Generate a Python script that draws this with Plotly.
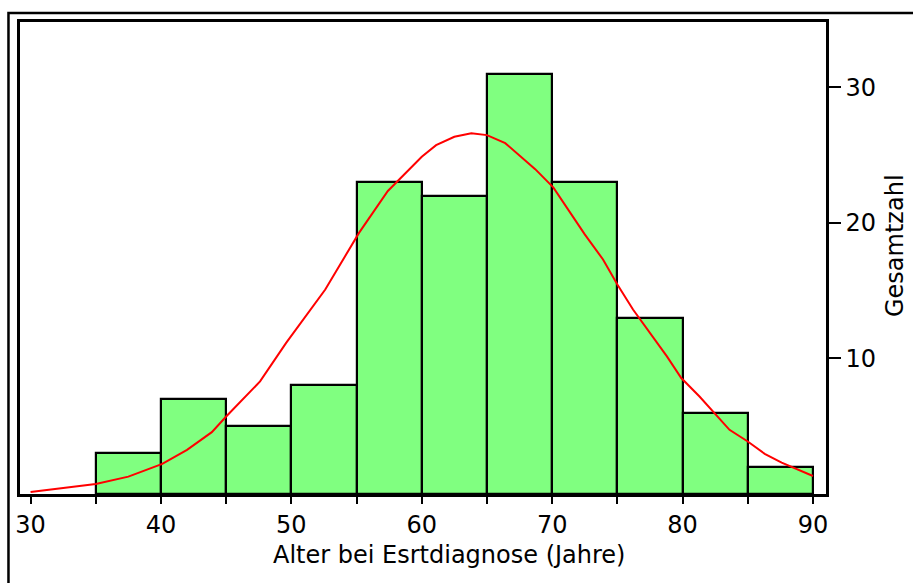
import plotly.graph_objects as go

# Histogram of age at first diagnosis, 5-year bins
bin_starts = [35, 40, 45, 50, 55, 60, 65, 70, 75, 80, 85]
bin_width = 5
counts = [3, 7, 5, 8, 23, 22, 31, 23, 13, 6, 2]

# Fitted normal curve (as drawn)
curve_x = [30.0, 35.0, 37.5, 40.1, 42.0, 43.9, 45.0, 47.6, 49.6, 51.4, 52.6,
           55.2, 57.4, 60.0, 61.1, 62.5, 63.8, 65.0, 66.4, 68.7, 70.1, 72.5,
           73.9, 75.0, 76.2, 78.8, 79.9, 81.3, 83.6, 85.0, 86.3, 87.6, 90.0]
curve_y = [0.15, 0.74, 1.28, 2.22, 3.25, 4.56, 5.71, 8.3, 11.14, 13.47, 15.08,
           19.27, 22.34, 24.86, 25.72, 26.34, 26.6, 26.46, 25.87, 23.95, 22.59, 19.14,
           17.29, 15.45, 13.6, 10.15, 8.55, 7.19, 4.73, 3.87, 2.96, 2.31, 1.33]

x_tickvals = [30, 35, 40, 45, 50, 55, 60, 65, 70, 75, 80, 85, 90]
x_ticktext = ["30", "", "40", "", "50", "", "60", "", "70", "", "80", "", "90"]
y_tickvals = [10, 20, 30]
y_ticktext = ["10", "20", "30"]

x_title = "Alter bei Esrtdiagnose (Jahre)"
y_title = "Gesamtzahl"

FONT = "DejaVu Sans"
FS = 24
bin_centers = [s + bin_width / 2 for s in bin_starts]

fig = go.Figure()
fig.add_trace(go.Bar(
    x=bin_centers, y=counts, width=bin_width,
    marker=dict(color="#80FF80", line=dict(color="black", width=2.2)),
    showlegend=False, hoverinfo="skip",
))
fig.add_trace(go.Scatter(
    x=curve_x, y=curve_y, mode="lines",
    line=dict(color="#FF0000", width=2),
    showlegend=False, hoverinfo="skip",
))

fig.update_layout(
    width=913, height=583,
    margin=dict(l=20, r=87, t=22, b=89),
    paper_bgcolor="white", plot_bgcolor="white",
    bargap=0,
    font=dict(family=FONT, size=FS, color="black"),
    xaxis=dict(
        range=[29.19, 91.0],
        tickmode="array", tickvals=x_tickvals, ticktext=x_ticktext,
        ticks="outside", ticklen=7, tickwidth=2, tickcolor="black",
        showline=True, linecolor="black", linewidth=2.5, mirror=True,
        showgrid=False, zeroline=False,
        tickfont=dict(family=FONT, size=FS, color="black"),
    ),
    yaxis=dict(
        range=[0, 34.8], side="right",
        tickmode="array", tickvals=y_tickvals, ticktext=y_ticktext,
        ticks="outside", ticklen=12, tickwidth=2, tickcolor="black",
        showline=True, linecolor="black", linewidth=2.5, mirror=True,
        showgrid=False, zeroline=False,
        tickfont=dict(family=FONT, size=FS, color="black"),
    ),
    shapes=[dict(
        type="rect", xref="paper", yref="paper",
        x0=-0.0143, x1=1.3, y0=-0.4, y1=1.019,
        line=dict(color="black", width=2.5), fillcolor="rgba(0,0,0,0)",
        layer="below",
    )],
    annotations=[
        dict(text=x_title, xref="paper", yref="paper",
             x=(449 - 20) / 806, y=(494 - 555) / 472,
             xanchor="center", yanchor="middle", showarrow=False,
             font=dict(family=FONT, size=FS, color="black")),
        dict(text=y_title, xref="paper", yref="paper",
             x=(895 - 20) / 806, y=(494 - 246) / 472,
             xanchor="center", yanchor="middle", showarrow=False, textangle=-90,
             font=dict(family=FONT, size=FS, color="black")),
    ],
)

fig.write_html("out.html")
